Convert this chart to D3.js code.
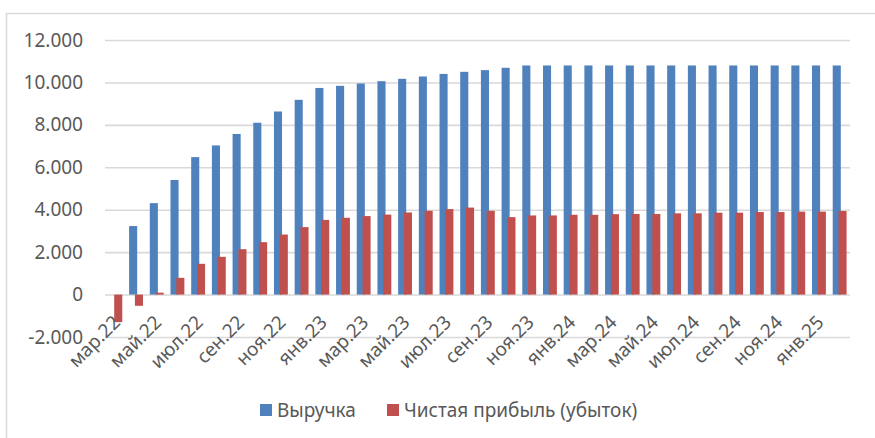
<!DOCTYPE html>
<html>
<head>
<meta charset="utf-8">
<script src="https://cdn.jsdelivr.net/npm/d3@7"></script>
<style>
  body { margin: 0; background: #fff; }
  text { font-family: "Noto Sans", "Open Sans", sans-serif; fill: #595959; }
</style>
</head>
<body>
<main></main>
<script>
// data
const months = [
  'мар.22','апр.22','май.22','июн.22','июл.22','авг.22','сен.22','окт.22','ноя.22','дек.22',
  'янв.23','фев.23','мар.23','апр.23','май.23','июн.23','июл.23','авг.23','сен.23','окт.23','ноя.23','дек.23',
  'янв.24','фев.24','мар.24','апр.24','май.24','июн.24','июл.24','авг.24','сен.24','окт.24','ноя.24','дек.24',
  'янв.25','фев.25'
]
const revenue = [
  0, 3230, 4310, 5400, 6480, 7030, 7570, 8100, 8630, 9180,
  9740, 9840, 9950, 10060, 10170, 10280, 10400, 10500, 10580, 10690, 10800, 10800,
  10800, 10800, 10800, 10800, 10800, 10800, 10800, 10800, 10800, 10800, 10800, 10800,
  10800, 10800
]
const netProfit = [
  -1300, -530, 90, 790, 1450, 1780, 2140, 2470, 2830, 3180,
  3520, 3620, 3700, 3770, 3870, 3950, 4030, 4100, 3950, 3650, 3730, 3730,
  3760, 3760, 3790, 3800, 3800, 3830, 3830, 3860, 3860, 3890, 3890, 3910,
  3910, 3940
]
const yTicks = [-2000, 0, 2000, 4000, 6000, 8000, 10000, 12000]
const seriesNames = ['Выручка', 'Чистая прибыль (убыток)']

// sizes
const sizeOfSVG = { width: 875, height: 438 }
const plot = { left: 105, right: 850, top: 40, bottom: 337 }
const colors = ['#4F81BD', '#C0504D']
const fontSize = '19px'

const svg = d3.select('main')
  .append('svg')
  .attr('width', sizeOfSVG.width)
  .attr('height', sizeOfSVG.height)

svg.append('rect')
  .attr('width', sizeOfSVG.width)
  .attr('height', sizeOfSVG.height)
  .attr('fill', '#fff')

// chart border (cut off at right/bottom)
svg.append('rect')
  .attr('x', 6.5)
  .attr('y', 13.5)
  .attr('width', 900)
  .attr('height', 500)
  .attr('fill', 'none')
  .attr('stroke', '#D9D9D9')
  .attr('stroke-width', 1.5)

// scales
const xScale = d3.scaleBand()
  .domain(months)
  .range([plot.left, plot.right])
  .padding(0)

const yScale = d3.scaleLinear()
  .domain([-2000, 12000])
  .range([plot.bottom, plot.top])

// gridlines + y labels
const yAxis = d3.axisLeft(yScale)
  .tickValues(yTicks)
  .tickSize(-(plot.right - plot.left))
  .tickPadding(22)
  .tickFormat(d => d3.format(',')(d).replace(/,/g, '.').replace('−', '-'))

const gy = svg.append('g')
  .attr('transform', `translate(${plot.left},0)`)
  .call(yAxis)
gy.select('.domain').remove()
gy.selectAll('.tick line')
  .attr('stroke', '#D9D9D9')
  .attr('stroke-width', 1.6)
gy.selectAll('.tick text')
  .style('font-size', fontSize)
  .attr('fill', '#595959')

// bars
const cw = xScale.bandwidth()
const barW = cw * 0.39
const offsets = [cw * 0.165, cw * 0.445]

const seriesData = [revenue, netProfit]
seriesData.forEach((values, s) => {
  svg.append('g')
    .selectAll('rect')
    .data(values)
    .enter()
    .append('rect')
    .attr('x', (d, i) => xScale(months[i]) + offsets[s])
    .attr('width', barW)
    .attr('y', d => yScale(Math.max(0, d)))
    .attr('height', d => Math.abs(yScale(d) - yScale(0)))
    .attr('fill', colors[s])
})

// x labels (every second month)
const xAxis = d3.axisBottom(xScale)
  .tickValues(months.filter((m, i) => i % 2 === 0))
  .tickSize(0)
  .tickPadding(0)

const gx = svg.append('g')
  .attr('transform', `translate(0,${yScale(0)})`)
  .call(xAxis)
gx.select('.domain').remove()
gx.selectAll('.tick text')
  .attr('text-anchor', 'end')
  .attr('dy', null)
  .attr('y', null)
  .attr('transform', 'translate(6,29) rotate(-45)')
  .style('font-size', fontSize)
  .attr('fill', '#595959')

// legend
const legendX = [260, 387]
const legend = svg.append('g')
  .selectAll('g')
  .data(seriesNames)
  .enter()
  .append('g')
  .attr('transform', (d, i) => `translate(${legendX[i]},404)`)

legend.append('rect')
  .attr('width', 12)
  .attr('height', 12)
  .attr('fill', (d, i) => colors[i])

legend.append('text')
  .attr('x', 17)
  .attr('y', 13)
  .style('font-size', fontSize)
  .text(d => d)
</script>
</body>
</html>
